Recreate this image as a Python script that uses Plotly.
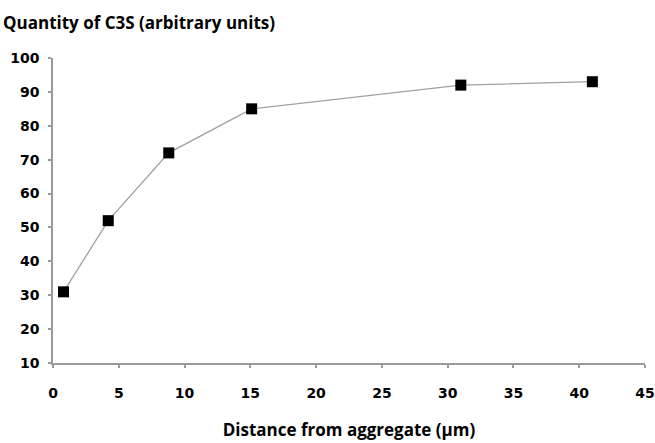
import plotly.graph_objects as go

distance_um = [0.8, 4.2, 8.8, 15.1, 31, 41]
c3s_quantity = [31, 52, 72, 85, 92, 93]

x_ticks = [0, 5, 10, 15, 20, 25, 30, 35, 40, 45]
y_ticks = [10, 20, 30, 40, 50, 60, 70, 80, 90, 100]

fig = go.Figure()
fig.add_trace(go.Scatter(
    x=distance_um, y=c3s_quantity, mode="lines+markers",
    line=dict(color="#a0a0a0", width=1.3),
    marker=dict(symbol="square", size=11, color="black"),
    cliponaxis=False, showlegend=False,
))

tick_font = dict(family="DejaVu Sans", size=14, color="black", weight="bold")
title_font = dict(family="Open Sans", size=17, color="black")
fig.update_layout(
    width=655, height=443,
    margin=dict(l=53, r=10, t=58, b=80),
    paper_bgcolor="white", plot_bgcolor="white",
    font=dict(family="Open Sans", color="black"),
    annotations=[
        dict(text="<b>Quantity of C3S (arbitrary units)</b>", xref="paper", yref="paper",
             x=-0.0885, y=1.118, xanchor="left", yanchor="middle", showarrow=False,
             font=title_font),
    ],
)
fig.update_xaxes(
    range=[0, 45], tickvals=x_ticks, showgrid=False, zeroline=False, automargin=False,
    showline=True, linecolor="#9a9a9a", linewidth=1.5,
    ticks="outside", ticklen=3, tickcolor="#9a9a9a", tickwidth=1.5,
    tickfont=tick_font, ticklabelstandoff=13,
    title=dict(text="<b>Distance from aggregate (µm)</b>", font=title_font, standoff=25),
)
fig.update_yaxes(
    range=[10, 100], tickvals=y_ticks, showgrid=False, zeroline=False, automargin=False,
    showline=True, linecolor="#9a9a9a", linewidth=1.5,
    ticks="outside", ticklen=3, tickcolor="#9a9a9a", tickwidth=1.5,
    tickfont=tick_font, ticklabelstandoff=6,
)

fig.write_html(
    "out.html",
    config={"displayModeBar": False},
    post_script="document.body.style.margin='0';document.documentElement.style.overflow='hidden';document.body.style.overflow='hidden';",
)
